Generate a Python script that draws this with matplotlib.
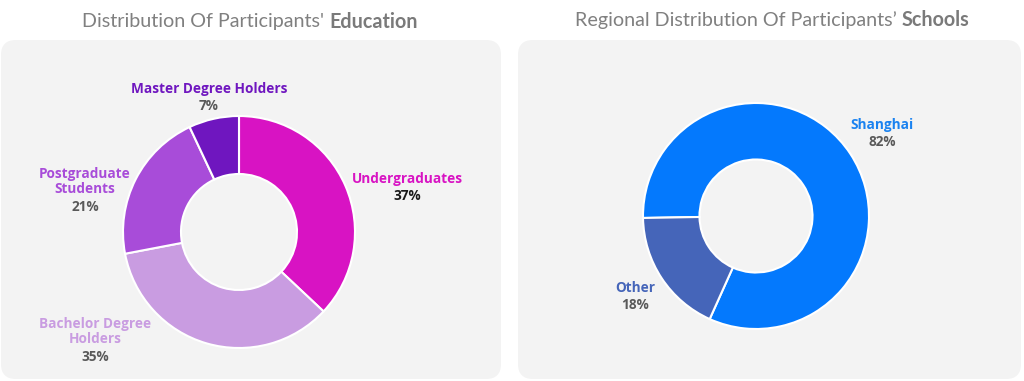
import matplotlib

matplotlib.use("Agg")
import matplotlib.pyplot as plt
from matplotlib.patches import FancyBboxPatch

# data
edu_labels = ["Undergraduates", "Bachelor Degree\nHolders", "Postgraduate\nStudents", "Master Degree Holders"]
edu_share = [37, 35, 21, 7]
edu_colors = ["#D813C3", "#C99CE1", "#A84CD9", "#6F16BF"]

region_labels = ["Shanghai", "Other"]
region_share = [82, 18]
region_colors = ["#0479FD", "#4565B9"]

W, H = 1024, 381
fig = plt.figure(figsize=(W / 100, H / 100), dpi=100)
fig.patch.set_facecolor("white")

bg = fig.add_axes([0, 0, 1, 1])
bg.set_xlim(0, W)
bg.set_ylim(H, 0)
bg.axis("off")

# rounded panels
for x0, x1 in [(1, 501), (518, 1021)]:
    bg.add_patch(FancyBboxPatch((x0 + 15, 40 + 15), x1 - x0 - 30, 339 - 30,
                                boxstyle="round,pad=15", fc="#F3F3F3", ec="none"))

LABEL_FONT = "Open Sans"
TITLE_FONT = "Lato"


def title(cx, y, plain, bold):
    t1 = bg.text(0, y, plain, fontsize=14.2, family=TITLE_FONT, color="#808080", va="center", ha="left")
    t2 = bg.text(0, y, bold, fontsize=14.2, family=TITLE_FONT, color="#7A7A7A", weight="bold",
                 va="center", ha="left")
    fig.canvas.draw()
    r = fig.canvas.get_renderer()
    w1 = t1.get_window_extent(r).width
    w2 = t2.get_window_extent(r).width
    x = cx - (w1 + w2) / 2
    t1.set_x(x)
    t2.set_x(x + w1)


def donut(cx, cy, r, values, colors, start):
    ax = fig.add_axes([(cx - r) / W, (H - cy - r) / H, 2 * r / W, 2 * r / H])
    ax.pie(values, colors=colors, startangle=start, counterclock=False,
           wedgeprops=dict(width=0.5, edgecolor="white", linewidth=1.5))
    ax.set_xlim(-1, 1)
    ax.set_ylim(-1, 1)
    ax.set_aspect("equal")
    ax.patch.set_visible(False)


def label(x, y, name, pct, color, pct_color="#595959"):
    n = name.count("\n") + 1
    bg.text(x, y, name, fontsize=9.8, family=LABEL_FONT, weight="bold", color=color,
            ha="center", va="top", linespacing=1.1)
    bg.text(x, y + 16 * (n - 1) + 17, f"{pct}%", fontsize=9.8, family=LABEL_FONT, weight="bold",
            color=pct_color, ha="center", va="top")


title(250, 22, "Distribution Of Participants' ", "Education")
title(772, 20, "Regional Distribution Of Participants\u2019 ", "Schools")

donut(239, 232, 116, edu_share, edu_colors, 90)
donut(756, 216, 113, region_share, region_colors, 181)

edu_pos = [(407, 172), (95, 317), (85, 167), (209, 82)]
for (x, y), name, pct, c in zip(edu_pos, edu_labels, edu_share, edu_colors):
    label(x, y, name, pct, c, "#1A1A1A" if name == "Undergraduates" else "#595959")

region_pos = [(882, 118), (635, 281)]
region_text = ["#1A82F0", "#4565B9"]
for (x, y), name, pct, c in zip(region_pos, region_labels, region_share, region_text):
    label(x, y, name, pct, c)

fig.savefig("out.png", dpi=100)
